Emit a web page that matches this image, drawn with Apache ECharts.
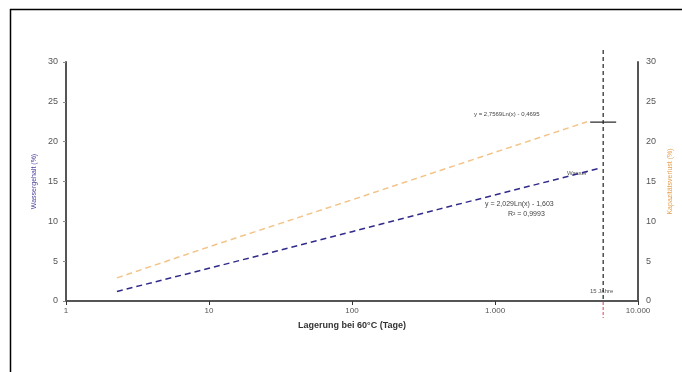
<!DOCTYPE html>
<html>
<head>
<meta charset="utf-8">
<script src="https://cdn.jsdelivr.net/npm/echarts@6/dist/echarts.min.js"></script>
<style>
html, body { margin: 0; padding: 0; background: #fff; }
#chart { width: 682px; height: 372px; }
</style>
</head>
<body>
<div id="chart"></div>
<script>
// Tage (log) / Werte in %
var tageWasser = [2.27, 10, 100, 400, 5500];
var wasser = [1.2, 4.1, 8.7, 11.5, 16.7];
var tageKapaz = [2.27, 10, 100, 400, 4400];
var kapazitaet = [2.9, 6.8, 12.7, 16.3, 22.5];
var jahre15 = 5700;
var kapazEnde = 22.45;
var xTicks = [1, 10, 100, 1000, 10000];
var xTickLabels = ['1', '10', '100', '1.000', '10.000'];

function pairs(xs, ys) {
	var out = [];
	for (var i = 0; i < xs.length; i++) {
		out.push([xs[i], ys[i]]);
	}
	return out;
}

var chart = echarts.init(document.getElementById('chart'));
var txt = '#555';
var option = {
	animation: false,
	grid: { left: 66, right: 40, top: 62, bottom: 71 },
	xAxis: {
		type: 'log',
		logBase: 10,
		min: 1,
		max: 10000,
		name: 'Lagerung bei 60°C (Tage)',
		nameLocation: 'middle',
		nameGap: 20,
		nameTextStyle: { color: '#333', fontSize: 9, fontWeight: 'bold' },
		axisLine: { lineStyle: { color: '#555', width: 2 } },
		axisTick: { show: true, length: 4, lineStyle: { color: '#333' } },
		minorTick: { show: false },
		splitLine: { show: false },
		axisLabel: {
			color: txt, fontSize: 8, margin: 6,
			formatter: function (v) {
				var i = xTicks.indexOf(Math.round(v));
				return i >= 0 ? xTickLabels[i] : '';
			}
		}
	},
	yAxis: [
		{
			type: 'value', min: 0, max: 30, interval: 5,
			name: 'Wassergehalt (%)',
			nameLocation: 'middle',
			nameGap: 28,
			nameTextStyle: { color: '#4a3f9a', fontSize: 7 },
			axisLine: { show: true, lineStyle: { color: '#555', width: 2 } },
			axisTick: { show: true, length: 3, lineStyle: { color: '#888' } },
			splitLine: { show: false },
			axisLabel: { color: txt, fontSize: 9, margin: 8 }
		},
		{
			type: 'value', min: 0, max: 30, interval: 5,
			position: 'right',
			name: 'Kapazitätsverlust (%)',
			nameLocation: 'middle',
			nameGap: 24,
			nameRotate: 90,
			nameTextStyle: { color: '#e6a050', fontSize: 7 },
			axisLine: { show: true, lineStyle: { color: '#555', width: 2 } },
			axisTick: { show: false },
			splitLine: { show: false },
			axisLabel: { color: txt, fontSize: 9, margin: 8 }
		}
	],
	series: [
		{
			name: 'Wasser',
			type: 'line',
			data: pairs(tageWasser, wasser),
			symbol: 'none',
			lineStyle: { color: '#2f2a8a', width: 1.5, type: [6, 4] }
		},
		{
			name: 'Kapazität',
			type: 'line',
			yAxisIndex: 1,
			data: pairs(tageKapaz, kapazitaet),
			symbol: 'none',
			lineStyle: { color: '#f2c48a', width: 1.5, type: [6, 4] }
		},
		{
			type: 'scatter',
			yAxisIndex: 1,
			data: [[jahre15, kapazEnde]],
			symbol: 'rect',
			symbolSize: [26, 1.5],
			itemStyle: { color: '#222' },
			z: 5
		}
	]
};
chart.setOption(option);

var px = chart.convertToPixel({ xAxisIndex: 0 }, jahre15);
var y0 = chart.convertToPixel({ yAxisIndex: 0 }, 0);
chart.setOption({
	graphic: [
		{ type: 'line', shape: { x1: 10, y1: 9.5, x2: 682, y2: 9.5 }, style: { stroke: '#000', lineWidth: 1.5 } },
		{ type: 'line', shape: { x1: 10.5, y1: 9, x2: 10.5, y2: 372 }, style: { stroke: '#000', lineWidth: 1.5 } },
		{ type: 'line', shape: { x1: px, y1: 50, x2: px, y2: y0 }, style: { stroke: '#222', lineWidth: 1.2, lineDash: [4, 3] }, z: 10 },
		{ type: 'line', shape: { x1: px, y1: y0 + 1, x2: px, y2: y0 + 17 }, style: { stroke: '#e0607a', lineWidth: 1.2, lineDash: [3, 2] }, z: 10 },
		{ type: 'text', left: 474, top: 111, style: { text: 'y = 2,7569Ln(x) - 0,4695', fill: '#444', font: '6px sans-serif' } },
		{ type: 'text', left: 567, top: 170, style: { text: 'Wasser', fill: '#555', font: '6px sans-serif' } },
		{ type: 'text', left: 485, top: 201, style: { text: 'y = 2,029Ln(x) - 1,603', fill: '#444', font: '7px sans-serif' } },
		{ type: 'text', left: 508, top: 211, style: { text: 'R² = 0,9993', fill: '#444', font: '7px sans-serif' } },
		{ type: 'text', left: 590, top: 288, style: { text: '15 Jahre', fill: '#555', font: '6px sans-serif' } }
	]
});
</script>
</body>
</html>
